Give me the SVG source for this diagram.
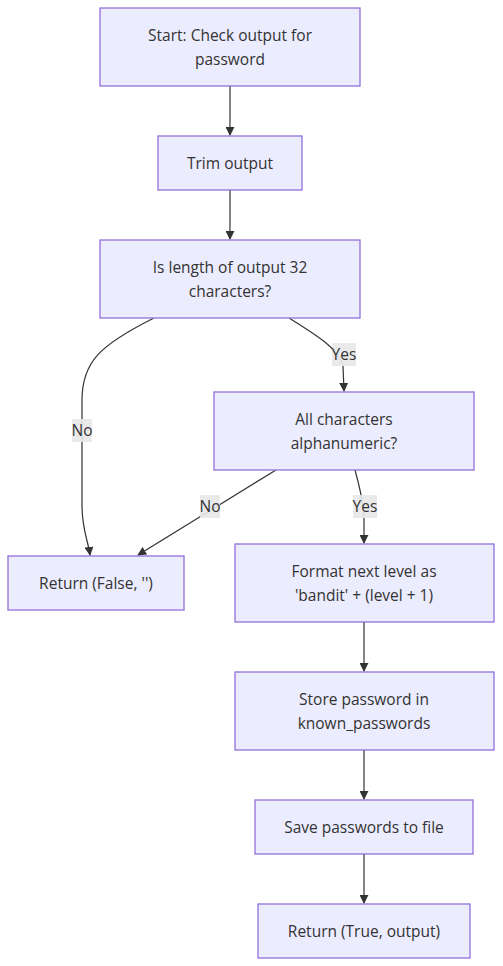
<svg xmlns="http://www.w3.org/2000/svg" width="503" height="966" viewBox="0 0 503 966">
<defs>
<marker id="arr" viewBox="0 0 10 10" refX="9" refY="5" markerUnits="userSpaceOnUse" markerWidth="9" markerHeight="9" orient="auto">
<path d="M0,0 L10,5 L0,10 z" fill="#333"/>
</marker>
<style>
.node rect{fill:#ECECFF;stroke:#9370DB;stroke-width:1.3}
text{font-family:"Open Sans","DejaVu Sans","Liberation Sans",sans-serif;font-size:15.5px;fill:#333;text-anchor:middle;dominant-baseline:central}
.edge{fill:none;stroke:#333;stroke-width:1.2;marker-end:url(#arr)}
.lbl{fill:#e8e8e8;opacity:0.9}
</style>
</defs>
<rect width="503" height="966" fill="#fff"/>
<g id="connectors">
<path class="edge" d="M230,86 L230,135"/>
<path class="edge" d="M230,190 L230,239"/>
<path class="edge" d="M289,318 C318,336 340,350 343,366 L344,391"/>
<path class="edge" d="M154,318 C100,345 82,362 82,400 L82,505 C82,530 88,540 90,555"/>
<path class="edge" d="M276,470 L138,555"/>
<path class="edge" d="M355,470 C360,488 364,505 364,520 L364,543"/>
<path class="edge" d="M364,622 L364,671"/>
<path class="edge" d="M364,750 L364,799"/>
<path class="edge" d="M364,854 L364,903"/>
<rect class="lbl" x="332" y="343" width="24" height="23"/>
<text x="344" y="354">Yes</text>
<rect class="lbl" x="72" y="419" width="20" height="23"/>
<text x="82" y="430">No</text>
<rect class="lbl" x="200" y="495" width="20" height="23"/>
<text x="210" y="506">No</text>
<rect class="lbl" x="353" y="495" width="24" height="23"/>
<text x="365" y="506">Yes</text>
</g>
<g id="start" class="node"><rect x="100" y="8" width="260" height="78"/><text x="230" y="35">Start: Check output for</text><text x="230" y="59">password</text></g>
<g id="trim" class="node"><rect x="158" y="136" width="144" height="54"/><text x="230" y="163">Trim output</text></g>
<g id="islen" class="node"><rect x="100" y="240" width="260" height="78"/><text x="230" y="267">Is length of output 32</text><text x="230" y="291">characters?</text></g>
<g id="alnum" class="node"><rect x="214" y="392" width="260" height="78"/><text x="344" y="419">All characters</text><text x="344" y="443">alphanumeric?</text></g>
<g id="retfalse" class="node"><rect x="8" y="556" width="176" height="54"/><text x="96" y="583">Return (False, '')</text></g>
<g id="format" class="node"><rect x="235" y="544" width="259" height="78"/><text x="364" y="571">Format next level as</text><text x="364" y="595">'bandit' + (level + 1)</text></g>
<g id="store" class="node"><rect x="235" y="672" width="259" height="78"/><text x="364" y="699">Store password in</text><text x="364" y="723">known_passwords</text></g>
<g id="save" class="node"><rect x="255" y="800" width="218" height="54"/><text x="364" y="827">Save passwords to file</text></g>
<g id="rettrue" class="node"><rect x="258" y="904" width="212" height="54"/><text x="364" y="931">Return (True, output)</text></g>
</svg>
